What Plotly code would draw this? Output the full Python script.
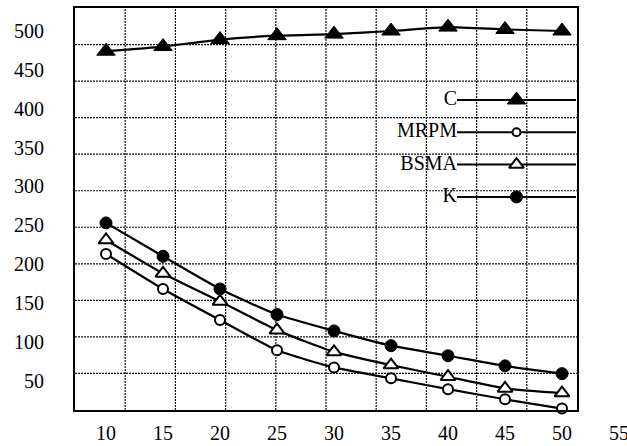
import plotly.graph_objects as go

# ---- data ----
x_values = [10, 15, 20, 25, 30, 35, 40, 45, 50]
series_names = ["C", "MRPM", "BSMA", "K"]
C = [474, 480, 489, 494, 496, 500, 505, 502, 500]
MRPM = [213, 168, 128, 89, 67, 53, 39, 26, 14]
BSMA = [231, 188, 152, 115, 87, 70, 55, 40, 34]
K = [253, 210, 168, 135, 114, 95, 82, 69, 59]
x_tick_labels = [10, 15, 20, 25, 30, 35, 40, 45, 50, 55]
y_tick_labels = [50, 100, 150, 200, 250, 300, 350, 400, 450, 500]

W, H = 627, 446
FONT = "Liberation Serif"
FS = 20

# plot-area geometry (pixels)
L, R, T, B = 75, 577, 8, 410
xdom = [L / W, R / W]
ydom = [(H - B) / H, (H - T) / H]
px_per_x = 11.4
x_range = [7.28, 7.28 + (R - L) / px_per_x]
x_label_range = [7.28, 7.28 + (W - L) / px_per_x]
y_range = [12.2, 529.6]

styles = {
    "C": dict(symbol="triangle-up", size=16, color="black", line=dict(color="black", width=1)),
    "MRPM": dict(symbol="circle", size=10, color="white", line=dict(color="black", width=2)),
    "BSMA": dict(symbol="triangle-up", size=13, color="white", line=dict(color="black", width=2)),
    "K": dict(symbol="circle", size=12, color="black", line=dict(color="black", width=1)),
}
data = {"C": C, "MRPM": MRPM, "BSMA": BSMA, "K": K}

fig = go.Figure()

for name in series_names:
    fig.add_trace(go.Scatter(
        x=x_values, y=data[name], mode="lines+markers", name=name,
        line=dict(color="black", width=2.2, shape="spline", smoothing=0.5),
        marker=styles[name], showlegend=False, cliponaxis=False,
        xaxis="x", yaxis="y",
    ))

# invisible helper trace so the extended label axis is drawn
fig.add_trace(go.Scatter(x=x_values, y=C, mode="markers", marker=dict(opacity=0),
                         hoverinfo="skip", showlegend=False, xaxis="x3", yaxis="y"))

# custom legend (text left of sample line)
row_px0, row_step = 100, 32.3
y4_top = -(row_px0 - T) / row_step
y4_bot = y4_top + (B - T) / row_step
legend_sizes = {"C": 16, "MRPM": 8, "BSMA": 13, "K": 12}
for i, name in enumerate(series_names):
    fig.add_trace(go.Scatter(
        x=[0, 1], y=[i, i], mode="lines+text",
        text=[name, ""], textposition="middle left",
        textfont=dict(family=FONT, size=FS, color="black"),
        line=dict(color="black", width=2),
        showlegend=False, cliponaxis=False, hoverinfo="skip",
        xaxis="x4", yaxis="y4",
    ))
    st = dict(styles[name])
    st["size"] = legend_sizes[name]
    fig.add_trace(go.Scatter(
        x=[0.5], y=[i], mode="markers", marker=st,
        showlegend=False, cliponaxis=False, hoverinfo="skip",
        xaxis="x4", yaxis="y4",
    ))

# dotted grid (independent of ticks, as in the original)
shapes = []
for i in range(1, 10):
    shapes.append(dict(type="line", xref="x domain", yref="y domain", x0=i / 10, x1=i / 10, y0=0, y1=1,
                       line=dict(color="#111", width=1.2, dash="2px,1px"), layer="below"))
for i in range(1, 11):
    shapes.append(dict(type="line", xref="x domain", yref="y domain", x0=0, x1=1, y0=i / 11, y1=i / 11,
                       line=dict(color="#111", width=1.2, dash="2px,1px"), layer="below"))

fig.update_layout(
    width=W, height=H,
    margin=dict(l=0, r=0, t=0, b=0),
    paper_bgcolor="white", plot_bgcolor="rgba(0,0,0,0)",
    font=dict(family=FONT, size=FS, color="black"),
    shapes=shapes,
    xaxis=dict(domain=xdom, range=x_range, showgrid=False, zeroline=False,
               showticklabels=False, ticks="", showline=True, mirror=True,
               linecolor="black", linewidth=2, anchor="y"),
    yaxis=dict(domain=ydom, range=y_range, showgrid=False, zeroline=False,
               tickvals=y_tick_labels, ticks="", ticklabelstandoff=25,
               showline=True, mirror=True, linecolor="black", linewidth=2,
               tickfont=dict(family=FONT, size=FS, color="black"), anchor="x",
               automargin=False),
    xaxis3=dict(domain=[L / W, 1.0], range=x_label_range, anchor="y",
                showgrid=False, zeroline=False, showline=False, ticks="",
                tickvals=x_tick_labels, ticklabelstandoff=9,
                ticklabeloverflow="allow", automargin=False,
                tickfont=dict(family=FONT, size=FS, color="black")),
    xaxis4=dict(domain=[457 / W, 576 / W], range=[0, 1], visible=False, anchor="y4"),
    yaxis4=dict(domain=ydom, range=[y4_bot, y4_top], visible=False, anchor="x4"),
)

fig.write_html("out.html", config={"displayModeBar": False},
               post_script="document.body.style.margin='0px';")
